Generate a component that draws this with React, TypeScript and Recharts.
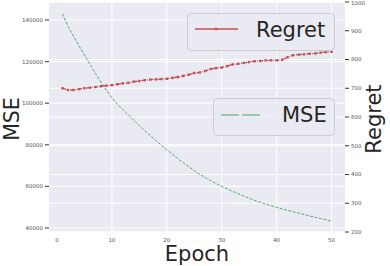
import React from 'react';
import { LineChart, Line, XAxis, YAxis, CartesianGrid, Label } from 'recharts';

const epochs = [1,2,3,4,5,6,7,8,9,10,11,12,13,14,15,16,17,18,19,20,21,22,23,24,25,26,27,28,29,30,31,32,33,34,35,36,37,38,39,40,41,42,43,44,45,46,47,48,49,50];
const mseValues = [143000,137000,132300,127700,123200,118700,114300,110200,106300,102600,99500,96900,94400,91800,89200,86700,84400,82000,79800,77600,75500,73400,71400,69500,67600,65800,64200,62700,61300,60000,58800,57600,56500,55400,54300,53300,52400,51500,50700,49900,49200,48500,47800,47100,46500,45800,45200,44600,44000,43300];
const regretValues = [700,694,694,697,700,702,704,707,709,711,714,717,719,723,725,728,730,731,732,733,736,739,743,747,753,755,760,767,770,772,777,783,785,788,791,794,795,797,797,797,799,808,815,817,818,820,821,824,826,827];
const xTicks = [0,10,20,30,40,50];
const mseTicks = [40000,60000,80000,100000,120000,140000];
const regretTicks = [200,300,400,500,600,700,800,900,1000];

const data = epochs.map((e, i) => ({ epoch: e, mse: mseValues[i], regret: regretValues[i] }));

const RED = '#c44e52';
const GREEN = '#55a868';
const FONT = 'DejaVu Sans, sans-serif';

const tickStyle = { fontSize: 5.5, fill: '#555', fontFamily: FONT };

const SquareDot = (props: any) => {
  const { cx, cy } = props;
  if (cx == null || cy == null) return null;
  return <rect x={cx - 1.2} y={cy - 1.2} width={2.4} height={2.4} fill={RED} />;
};

export default function App() {
  return (
    <div style={{ position: 'absolute', left: 0, top: 0, width: 390, height: 266, background: '#fff' }}>
      <LineChart width={390} height={266} data={data} margin={{ top: 2, right: 0, bottom: 0, left: 0 }}>
        <CartesianGrid yAxisId="left" fill="#eaeaf2" stroke="#ffffff" strokeWidth={1} verticalValues={[10,20,30,40,50]} />
        <CartesianGrid yAxisId="right" vertical={false} stroke="#ffffff" strokeWidth={1} />
        <XAxis
          dataKey="epoch"
          type="number"
          domain={[-1.45, 52.45]}
          ticks={xTicks}
          allowDataOverflow
          axisLine={false}
          tickLine={false}
          tick={tickStyle}
          tickMargin={0}
          height={34}
        >
          <Label content={() => (
            <text x={197} y={261} textAnchor="middle" fontSize={21} fontFamily={FONT} fill="#262626">Epoch</text>
          )} />
        </XAxis>
        <YAxis
          yAxisId="left"
          orientation="left"
          domain={[38077, 148654]}
          ticks={mseTicks}
          allowDataOverflow
          axisLine={false}
          tickLine={{ stroke: '#333' }}
          tickSize={4}
          tickMargin={2}
          tick={tickStyle}
          width={49}
        >
          <Label content={() => (
            <text x={19} y={119} textAnchor="middle" fontSize={20.5} fontFamily={FONT} fill="#262626" transform="rotate(-90 19 119)">MSE</text>
          )} />
        </YAxis>
        <YAxis
          yAxisId="right"
          orientation="right"
          domain={[200, 1000]}
          ticks={regretTicks}
          allowDataOverflow
          axisLine={false}
          tickLine={{ stroke: '#333' }}
          tickSize={4}
          tickMargin={2}
          tick={tickStyle}
          width={45}
        >
          <Label content={() => (
            <text x={381} y={119} textAnchor="middle" fontSize={21} fontFamily={FONT} fill="#262626" transform="rotate(-90 381 119)">Regret</text>
          )} />
        </YAxis>
        <Line
          yAxisId="left"
          dataKey="mse"
          type="linear"
          stroke={GREEN}
          strokeWidth={1}
          strokeDasharray="3 1.5"
          dot={false}
          isAnimationActive={false}
        />
        <Line
          yAxisId="right"
          dataKey="regret"
          type="linear"
          stroke={RED}
          strokeWidth={1.3}
          strokeDasharray="4 1.5 1 1.5"
          dot={<SquareDot />}
          isAnimationActive={false}
        />
      </LineChart>
      <svg width={390} height={266} style={{ position: 'absolute', left: 0, top: 0, pointerEvents: 'none' }}>
        <rect x={187.5} y={13.5} width={147} height={37} rx={4} fill="rgba(234,234,242,0.8)" stroke="#cccccc" strokeWidth={1} />
        <line x1={195} y1={29} x2={238} y2={29} stroke={RED} strokeWidth={1.3} />
        <rect x={215} y={27.8} width={2.4} height={2.4} fill={RED} />
        <text x={256} y={37} fontSize={21} fontFamily={FONT} fill="#262626">Regret</text>
        <rect x={213.5} y={98.5} width={121} height={37} rx={4} fill="rgba(234,234,242,0.8)" stroke="#cccccc" strokeWidth={1} />
        <line x1={221} y1={115} x2={263} y2={115} stroke="#7fbf92" strokeWidth={1.5} strokeDasharray="18 3" />
        <text x={282} y={122} fontSize={21} fontFamily={FONT} fill="#262626">MSE</text>
      </svg>
    </div>
  );
}
